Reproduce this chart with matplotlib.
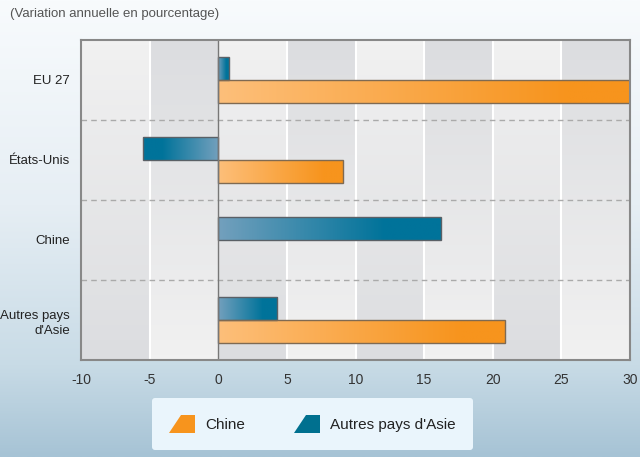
import numpy as np
import matplotlib
matplotlib.use('Agg')
import matplotlib.pyplot as plt
from matplotlib.colors import LinearSegmentedColormap
from matplotlib.patches import Patch, Polygon
from matplotlib.legend_handler import HandlerPatch

plt.rcParams['font.family'] = ['Liberation Sans', 'DejaVu Sans']

categories = ['EU 27', 'États-Unis', 'Chine', 'Autres pays\nd\'Asie']
chine = [30.0, 9.1, 0.0, 20.9]
autres_asie = [0.75, -5.5, 16.2, 4.3]
xticks = [-10, -5, 0, 5, 10, 15, 20, 25, 30]
title = '(Variation annuelle en pourcentage)'

ORANGE = '#f7941d'
BLUE = '#00708f'
cm_orange = LinearSegmentedColormap.from_list('o', [(0, '#fdbf7a'), (0.85, '#f7941d'), (1, '#f7941d')])
cm_blue = LinearSegmentedColormap.from_list('b', [(0, '#73a0bd'), (0.75, '#00739a'), (1, '#00739a')])
cm_bg = LinearSegmentedColormap.from_list('bg', [(0, '#f8fbfd'), (0.45, '#e6eef4'), (0.8, '#c8dbe6'), (1, '#a6c3d5')])
cm_band = LinearSegmentedColormap.from_list('band', ['#f1f1f1', '#dcdde0'])

fig = plt.figure(figsize=(6.4, 4.57), dpi=100)

# fond dégradé
bg = fig.add_axes([0, 0, 1, 1], zorder=-10)
bg.imshow(np.linspace(0, 1, 256).reshape(-1, 1), cmap=cm_bg, aspect='auto', extent=(0, 1, 0, 1))
bg.axis('off')

fig.text(10 / 640, 1 - 14 / 457, title, fontsize=9.5, color='#555555', va='center', ha='left')

ax = fig.add_axes([81 / 640, 1 - 360 / 457, 549 / 640, 320 / 457])
ax.set_xlim(-10, 30)
ax.set_ylim(3.5, -0.5)

# bandes verticales
grad = np.linspace(0, 1, 64).reshape(-1, 1)
for i, x0 in enumerate(range(-10, 30, 5)):
    g = grad if i % 2 == 0 else grad[::-1]
    ax.imshow(g, cmap=cm_band, aspect='auto', extent=(x0, x0 + 5, 3.5, -0.5), zorder=0)
for x in xticks[1:-1]:
    if x != 0:
        ax.axvline(x, color='white', lw=1.5, zorder=1)
ax.axvline(0, color='#777777', lw=1, zorder=4)
for y in [0.5, 1.5, 2.5]:
    ax.axhline(y, color='#aaaaaa', lw=1, dashes=(4, 3), zorder=1)

h = 0.285
ypos = np.arange(len(categories))
b_bars = ax.barh(ypos - h / 2, autres_asie, height=h, facecolor='none', edgecolor='#5a6066', lw=1, zorder=3)
o_bars = ax.barh(ypos + h / 2, chine, height=h, facecolor='none', edgecolor='#7f6a52', lw=1, zorder=3)

ramp = np.linspace(0, 1, 200).reshape(1, -1)
for bars, vals, cm in [(b_bars, autres_asie, cm_blue), (o_bars, chine, cm_orange)]:
    for bar, v in zip(bars, vals):
        if v == 0:
            bar.set_visible(False)
            continue
        y0 = bar.get_y()
        r = ramp if v > 0 else ramp[:, ::-1]
        im = ax.imshow(r, cmap=cm, aspect='auto', extent=(min(0, v), max(0, v), y0 + h, y0), zorder=2)
        im.set_clip_path(bar)

ax.set_xticks(xticks)
ax.set_xticklabels([str(x) for x in xticks], fontsize=10, color='#333333')
ax.set_yticks(ypos)
ax.set_yticklabels(categories, fontsize=9.5, color='#222222', linespacing=1.35)
ax.tick_params(length=0)
ax.tick_params(axis='x', pad=9)
ax.tick_params(axis='y', pad=8)
for s in ax.spines.values():
    s.set_color('#888888')
    s.set_linewidth(1.5)
    s.set_zorder(5)


def parallelogram(legend, orig_handle, xdescent, ydescent, width, height, fontsize):
    pts = [(-xdescent, -ydescent), (-xdescent + width, -ydescent),
           (-xdescent + width, -ydescent + height), (-xdescent + width * 0.45, -ydescent + height)]
    return Polygon(pts, closed=True)


handles = [Patch(facecolor=ORANGE, edgecolor='none'), Patch(facecolor=BLUE, edgecolor='none')]
leg = fig.legend(handles, ['Chine', 'Autres pays d\'Asie'], ncol=2, loc='center',
                 bbox_to_anchor=(312.5 / 640, 1 - 424 / 457), fontsize=11,
                 handler_map={Patch: HandlerPatch(patch_func=parallelogram)},
                 handlelength=1.7, handleheight=1.35, handletextpad=0.65, columnspacing=3.2,
                 borderpad=1.15, frameon=True, fancybox=True, facecolor='#eaf5fc', edgecolor='none',
                 framealpha=1)
for t in leg.get_texts():
    t.set_color('#222222')

plt.savefig('out.png', dpi=100)
